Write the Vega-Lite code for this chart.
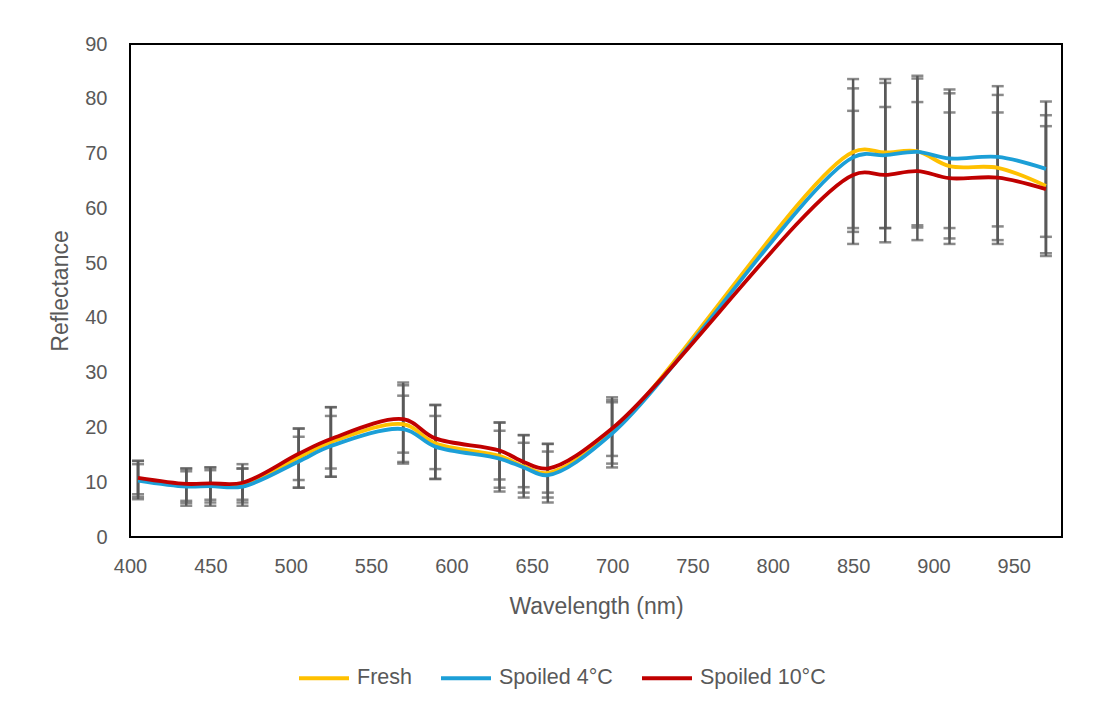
{
  "$schema": "https://vega.github.io/schema/vega-lite/v6.json",
  "width": 932,
  "height": 493,
  "autosize": {"type": "none"},
  "padding": {"left": 130, "top": 44, "right": 35, "bottom": 172},
  "background": "white",
  "config": {
    "view": {"stroke": "#000000", "strokeWidth": 2},
    "font": "Liberation Sans",
    "axis": {
      "labelFont": "Liberation Sans", "labelFontSize": 20, "labelColor": "#595959",
      "titleFont": "Liberation Sans", "titleFontSize": 23, "titleColor": "#595959", "titleFontWeight": "normal",
      "ticks": false, "grid": false, "domain": false, "labelOverlap": false, "labelFlush": false
    },
    "axisX": {"labelPadding": 19, "titleY": 69, "titleX": 466, "titleBaseline": "middle", "titleAnchor": "middle"},
    "axisY": {"labelPadding": 23, "titleX": -70, "titleY": 246.5, "titleBaseline": "middle", "titleAnchor": "middle"},
    "legend": {
      "orient": "none", "legendX": 167, "legendY": 607, "direction": "horizontal",
      "symbolType": "stroke", "symbolSize": 2500, "symbolStrokeWidth": 4,
      "labelFont": "Liberation Sans", "labelFontSize": 21.5, "labelColor": "#595959",
      "labelOffset": 6, "columnPadding": 21
    }
  },
  "data": {"values": [
    {"series": "Fresh", "wl": 405, "value": 10.5, "lo": 7.3, "hi": 13.9},
    {"series": "Fresh", "wl": 435, "value": 9.4, "lo": 6.2, "hi": 12.5},
    {"series": "Fresh", "wl": 450, "value": 9.5, "lo": 6.3, "hi": 12.7},
    {"series": "Fresh", "wl": 470, "value": 9.4, "lo": 6.3, "hi": 12.5},
    {"series": "Fresh", "wl": 505, "value": 14.5, "lo": 9.0, "hi": 19.8},
    {"series": "Fresh", "wl": 525, "value": 17.3, "lo": 11.0, "hi": 23.7},
    {"series": "Fresh", "wl": 570, "value": 20.6, "lo": 13.4, "hi": 27.7},
    {"series": "Fresh", "wl": 590, "value": 17.1, "lo": 10.6, "hi": 24.1},
    {"series": "Fresh", "wl": 630, "value": 14.8, "lo": 8.3, "hi": 20.9},
    {"series": "Fresh", "wl": 645, "value": 12.9, "lo": 7.2, "hi": 18.6},
    {"series": "Fresh", "wl": 660, "value": 11.7, "lo": 6.3, "hi": 17.0},
    {"series": "Fresh", "wl": 700, "value": 19.2, "lo": 12.7, "hi": 25.0},
    {"series": "Fresh", "wl": 850, "value": 70.3, "lo": 56.4, "hi": 83.6},
    {"series": "Fresh", "wl": 870, "value": 70.2, "lo": 56.4, "hi": 83.6},
    {"series": "Fresh", "wl": 890, "value": 70.4, "lo": 56.9, "hi": 84.2},
    {"series": "Fresh", "wl": 910, "value": 67.7, "lo": 54.5, "hi": 81.0},
    {"series": "Fresh", "wl": 940, "value": 67.4, "lo": 54.2, "hi": 80.7},
    {"series": "Fresh", "wl": 970, "value": 64.1, "lo": 51.8, "hi": 77.0},
    {"series": "Spoiled 4°C", "wl": 405, "value": 10.3, "lo": 6.9, "hi": 13.3},
    {"series": "Spoiled 4°C", "wl": 435, "value": 9.2, "lo": 5.7, "hi": 12.0},
    {"series": "Spoiled 4°C", "wl": 450, "value": 9.3, "lo": 5.7, "hi": 12.2},
    {"series": "Spoiled 4°C", "wl": 470, "value": 9.2, "lo": 5.7, "hi": 12.5},
    {"series": "Spoiled 4°C", "wl": 505, "value": 13.8, "lo": 9.0, "hi": 18.3},
    {"series": "Spoiled 4°C", "wl": 525, "value": 16.6, "lo": 11.0, "hi": 22.1},
    {"series": "Spoiled 4°C", "wl": 570, "value": 19.7, "lo": 13.7, "hi": 25.8},
    {"series": "Spoiled 4°C", "wl": 590, "value": 16.5, "lo": 10.6, "hi": 22.1},
    {"series": "Spoiled 4°C", "wl": 630, "value": 14.3, "lo": 9.0, "hi": 19.4},
    {"series": "Spoiled 4°C", "wl": 645, "value": 12.7, "lo": 8.1, "hi": 17.2},
    {"series": "Spoiled 4°C", "wl": 660, "value": 11.3, "lo": 7.2, "hi": 15.6},
    {"series": "Spoiled 4°C", "wl": 700, "value": 18.9, "lo": 13.4, "hi": 24.6},
    {"series": "Spoiled 4°C", "wl": 850, "value": 69.3, "lo": 55.7, "hi": 81.9},
    {"series": "Spoiled 4°C", "wl": 870, "value": 69.7, "lo": 56.4, "hi": 82.9},
    {"series": "Spoiled 4°C", "wl": 890, "value": 70.3, "lo": 56.5, "hi": 83.7},
    {"series": "Spoiled 4°C", "wl": 910, "value": 69.1, "lo": 56.4, "hi": 81.7},
    {"series": "Spoiled 4°C", "wl": 940, "value": 69.4, "lo": 56.7, "hi": 82.3},
    {"series": "Spoiled 4°C", "wl": 970, "value": 67.2, "lo": 54.8, "hi": 79.5},
    {"series": "Spoiled 10°C", "wl": 405, "value": 10.8, "lo": 7.8, "hi": 13.9},
    {"series": "Spoiled 10°C", "wl": 435, "value": 9.7, "lo": 6.6, "hi": 12.5},
    {"series": "Spoiled 10°C", "wl": 450, "value": 9.8, "lo": 6.8, "hi": 12.7},
    {"series": "Spoiled 10°C", "wl": 470, "value": 9.9, "lo": 6.8, "hi": 13.3},
    {"series": "Spoiled 10°C", "wl": 505, "value": 15.2, "lo": 10.4, "hi": 19.8},
    {"series": "Spoiled 10°C", "wl": 525, "value": 17.9, "lo": 12.5, "hi": 23.7},
    {"series": "Spoiled 10°C", "wl": 570, "value": 21.5, "lo": 15.4, "hi": 28.2},
    {"series": "Spoiled 10°C", "wl": 590, "value": 18.0, "lo": 12.4, "hi": 24.1},
    {"series": "Spoiled 10°C", "wl": 630, "value": 15.8, "lo": 10.5, "hi": 20.9},
    {"series": "Spoiled 10°C", "wl": 645, "value": 13.7, "lo": 9.1, "hi": 18.6},
    {"series": "Spoiled 10°C", "wl": 660, "value": 12.5, "lo": 8.1, "hi": 17.0},
    {"series": "Spoiled 10°C", "wl": 700, "value": 19.8, "lo": 14.8, "hi": 25.5},
    {"series": "Spoiled 10°C", "wl": 850, "value": 66.1, "lo": 53.5, "hi": 77.8},
    {"series": "Spoiled 10°C", "wl": 870, "value": 66.1, "lo": 53.8, "hi": 78.5},
    {"series": "Spoiled 10°C", "wl": 890, "value": 66.8, "lo": 54.2, "hi": 79.4},
    {"series": "Spoiled 10°C", "wl": 910, "value": 65.5, "lo": 53.5, "hi": 77.5},
    {"series": "Spoiled 10°C", "wl": 940, "value": 65.6, "lo": 53.5, "hi": 77.5},
    {"series": "Spoiled 10°C", "wl": 970, "value": 63.5, "lo": 51.3, "hi": 75.0}
  ]},
  "encoding": {
    "x": {
      "field": "wl", "type": "quantitative", "title": "Wavelength (nm)",
      "scale": {"domain": [400, 980], "nice": false, "zero": false},
      "axis": {"values": [400, 450, 500, 550, 600, 650, 700, 750, 800, 850, 900, 950]}
    }
  },
  "layer": [
    {
      "mark": {"type": "rule", "color": "#595959", "strokeWidth": 2.5},
      "encoding": {
        "y": {"field": "lo", "type": "quantitative", "title": "Reflectance", "scale": {"domain": [0, 90], "nice": false}, "axis": {"values": [0, 10, 20, 30, 40, 50, 60, 70, 80, 90]}},
        "y2": {"field": "hi"}
      }
    },
    {
      "mark": {"type": "tick", "orient": "horizontal", "color": "#595959", "size": 12, "thickness": 2.5},
      "encoding": {
        "y": {"field": "lo", "type": "quantitative", "title": "Reflectance", "scale": {"domain": [0, 90], "nice": false}}
      }
    },
    {
      "mark": {"type": "tick", "orient": "horizontal", "color": "#595959", "size": 12, "thickness": 2.5},
      "encoding": {
        "y": {"field": "hi", "type": "quantitative", "title": "Reflectance", "scale": {"domain": [0, 90], "nice": false}}
      }
    },
    {
      "mark": {"type": "line", "interpolate": "catmull-rom", "strokeWidth": 3.8},
      "encoding": {
        "y": {"field": "value", "type": "quantitative", "title": "Reflectance", "scale": {"domain": [0, 90], "nice": false}},
        "color": {
          "field": "series", "type": "nominal", "title": null,
          "sort": ["Fresh", "Spoiled 4°C", "Spoiled 10°C"],
          "scale": {"domain": ["Fresh", "Spoiled 4°C", "Spoiled 10°C"], "range": ["#FFC000", "#1C9FD7", "#C00000"]}
        },
        "order": {"field": "wl", "type": "quantitative"}
      }
    }
  ]
}
